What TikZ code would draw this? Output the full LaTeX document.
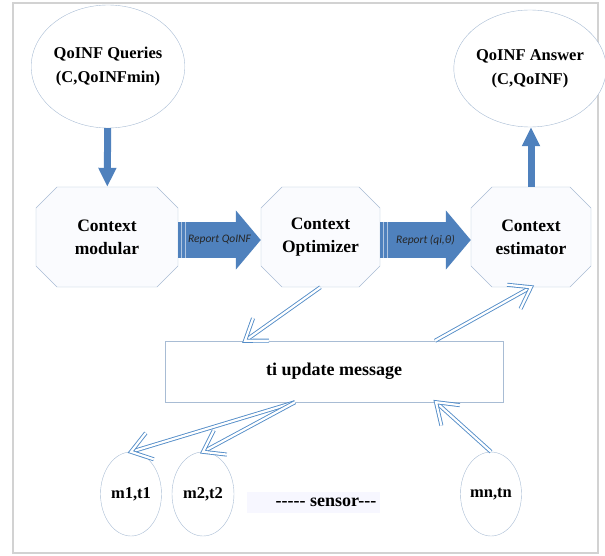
\documentclass[tikz,border=0pt]{standalone}
\usepackage{fontspec}
\setmainfont{Liberation Serif}
\newfontfamily\reportfont{Carlito}
\definecolor{fatblue}{RGB}{79, 129, 189}
\definecolor{linkblue}{RGB}{84, 141, 200}
\definecolor{edgeblue}{RGB}{168, 188, 212}
\definecolor{boxfill}{RGB}{250, 251, 254}
\usetikzlibrary{shapes.misc, shapes.geometric, arrows.meta, positioning, calc}

\begin{document}
\begin{tikzpicture}[
  x=1pt, y=-1pt,
  bubble/.style={draw=edgeblue, fill=white, ellipse, inner sep=0pt, align=center, font=\fontsize{16.5}{24}\selectfont\bfseries},
  module/.style={draw=edgeblue, fill=boxfill, chamfered rectangle, chamfered rectangle xsep=9pt, chamfered rectangle ysep=12pt, minimum height=100pt, inner sep=0pt, align=center, font=\fontsize{17.5}{23}\selectfont\bfseries},
  sensornode/.style={draw=edgeblue, fill=white, ellipse, minimum width=61pt, minimum height=84pt, inner sep=0pt, font=\fontsize{16.5}{18}\selectfont\bfseries},
  fatarrow/.style={draw=fatblue, line width=7pt, -{Triangle[length=19pt, width=17pt]}},
  wide/.style={line width=35pt, -{Triangle[length=25pt, width=58pt]}},
  stripe/.style={draw=white!55!fatblue, line width=0.7pt},
  hollow/.style={draw=linkblue, double=white, double distance=2.2pt, line width=0.9pt, line join=miter},
  report/.style={font=\reportfont\itshape\fontsize{11.5}{13}\selectfont, text=black!85},
]
  \useasboundingbox (0,0) rectangle (605,556);
  \draw[gray!35, line width=2.5pt] (13,3) rectangle (598,553);

  % query side
  \node[bubble, minimum width=143pt, minimum height=123pt] (qry) at (108, 66.5) {QoINF Queries\\(C,QoINFmin)};
  \node[bubble, minimum width=134pt, minimum height=117pt] (ans) at (530, 68.5) {QoINF Answer\\(C,QoINF)};

  % modules
  \node[module, minimum width=142pt] (mod) at (107, 237) {Context\\modular};
  \node[module, minimum width=119pt] (opt) at (320.5, 237) {Context\\Optimizer};
  \node[module, minimum width=120pt] (est) at (531, 237) {Context\\estimator};

  % message and sensors
  \node[draw=edgeblue, fill=white, minimum width=338pt, minimum height=61pt, font=\fontsize{18}{20}\selectfont\bfseries] (msg) at (334, 371.5) {ti update message};
  \node[sensornode] (s1) at (131, 494) {m1,t1};
  \node[sensornode, minimum width=62pt] (s2) at (203, 494) {m2,t2};
  \node[sensornode] (sn) at (491, 494) {mn,tn};
  \fill[blue!3] (247,492) rectangle (380,513);
  \node[font=\fontsize{18}{20}\selectfont\bfseries] (sens) at (326, 502) {-{}-{}-{}-{}- sensor-{}-{}-};

  \coordinate (msgTopL) at ([xshift=-89pt]msg.north);
  \coordinate (msgTopR) at ([xshift=101pt]msg.north);
  \coordinate (msgBotL) at ([xshift=-39pt]msg.south);
  \coordinate (msgBotR) at ([xshift=102pt]msg.south);

  \draw[fatarrow] (qry) -- (mod);
  \draw[fatarrow] (est.north) -- (est.north |- ans.south);
  \draw[fatarrow, wide] ([yshift=-3pt]mod.east) -- node[report] {Report QoINF} ([yshift=-3pt]opt.west);
  \draw[fatarrow, wide] ([yshift=-3pt]opt.east) -- node[report] {Report (qi,θ)} ([yshift=-3pt]est.west);
  \foreach \blk in {mod, opt}
    \foreach \d in {3, 7}
      \draw[stripe] ([xshift=\d pt, yshift=14.5pt]\blk.east) -- ([xshift=\d pt, yshift=-20.5pt]\blk.east);

  % open double arrows
  \foreach \from/\to in {opt.south/msgTopL, msgTopR/est.south, msgBotL/s1.north, msgBotL/s2.north, sn.north/msgBotR}{
    \draw[hollow, shorten >=2pt] (\from) -- (\to);
    \draw[hollow] ($(\to)!24pt!35:(\from)$) -- (\to) -- ($(\to)!24pt!-35:(\from)$);
  }
\end{tikzpicture}
\end{document}
